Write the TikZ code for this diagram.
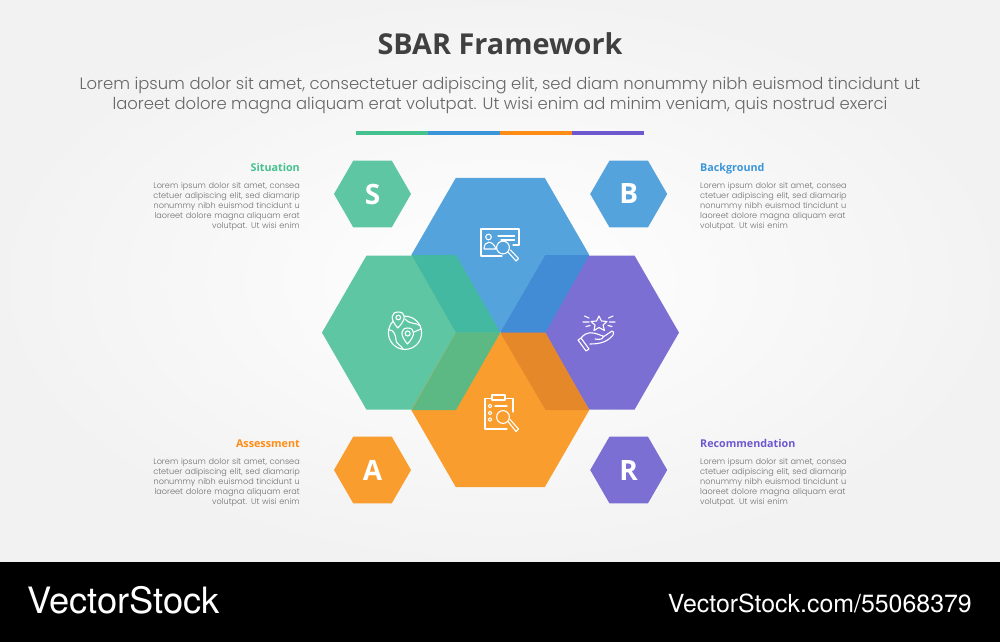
\documentclass[tikz,border=0pt]{standalone}
\usepackage{fontspec}
\setmainfont{Poppins Light}
\newfontfamily\headfont{Open Sans}
\newfontfamily\markfont{TeX Gyre Heros}
\usetikzlibrary{shapes.geometric}
\definecolor{sitgreen}{HTML}{5FC6A4}
\definecolor{bgblue}{HTML}{55A3DC}
\definecolor{recpurple}{HTML}{7B6FD4}
\definecolor{assorange}{HTML}{F99D2E}
\definecolor{tealmix}{HTML}{44B9A1}
\definecolor{bluemix}{HTML}{418CD4}
\definecolor{darkmix}{HTML}{E58829}
\definecolor{greenmix}{HTML}{5CB984}
\definecolor{bodygrey}{HTML}{707070}
\definecolor{bargreen}{HTML}{45C08F}
\definecolor{barblue}{HTML}{3B95D9}
\definecolor{barorange}{HTML}{FF8C14}
\definecolor{barpurple}{HTML}{6E58D0}
\tikzset{
	bighex/.style={regular polygon, regular polygon sides=6, minimum size=178pt, inner sep=0pt, fill=#1},
	smallhex/.style={regular polygon, regular polygon sides=6, minimum size=77pt, inner sep=0pt, fill=#1, text=white, font=\headfont\bfseries\fontsize{28}{28}\selectfont},
	heading/.style={font=\headfont\bfseries\fontsize{10.75}{10.75}\selectfont, inner sep=0pt, text=#1},
	bodytxt/.style={font=\fontsize{8.14}{10}\selectfont, text=bodygrey, inner sep=0pt, text width=160pt},
	iconline/.style={draw=white, line width=1.1pt, line join=round, line cap=round},
}
\begin{document}
\begin{tikzpicture}[x=1pt, y=-1pt]
	\useasboundingbox (0,0) rectangle (1000,642);
	% backdrop
	\shade[inner color=white, outer color=black!5] (0,0) rectangle (1000,562);
	\fill[black] (0,562) rectangle (1000,642);
	% title block
	\node[font=\headfont\bfseries\fontsize{28.8}{28.8}\selectfont, text=black!75, inner sep=0pt] (title) at (500,44) {SBAR Framework};
	\node[font=\fontsize{16.42}{20}\selectfont, text=black!60, inner sep=0pt, align=center] (intro) at (500,96) {Lorem ipsum dolor sit amet, consectetuer adipiscing elit, sed diam nonummy nibh euismod tincidunt ut\\laoreet dolore magna aliquam erat volutpat. Ut wisi enim ad minim veniam, quis nostrud exerci};
	\fill[bargreen] (356,131) rectangle (428,135);
	\fill[barblue] (428,131) rectangle (500,135);
	\fill[barorange] (500,131) rectangle (572,135);
	\fill[barpurple] (572,131) rectangle (644,135);
	% big hexagons
	\node[bighex=bgblue] (hexb) at (500.3,255) {};
	\node[bighex=sitgreen] (hexs) at (411,332.6) {};
	\node[bighex=recpurple] (hexr) at (590,332.6) {};
	\node[bighex=assorange] (hexa) at (500.3,410) {};
	\fill[tealmix] (411.7,255) -- (456,255) -- (500.3,332.6) -- (456,332.6) -- cycle;
	\fill[bluemix] (545.5,255) -- (589,255) -- (545.5,332.6) -- (500.3,332.6) -- cycle;
	\fill[darkmix] (500.3,332.6) -- (545.5,332.6) -- (589,410) -- (545.5,410) -- cycle;
	\fill[greenmix] (456,332.6) -- (500.3,332.6) -- (456,410) -- (411.7,410) -- cycle;
	% small hexagons
	\node[smallhex=sitgreen] (keys) at (372.5,194) {S};
	\node[smallhex=bgblue] (keyb) at (628.7,194) {B};
	\node[smallhex=assorange] (keya) at (372.5,470) {A};
	\node[smallhex=recpurple] (keyr) at (628.7,470) {R};
	% left texts
	\node[heading=bargreen, anchor=base east] (heads) at (300,171) {Situation};
	\node[bodytxt, anchor=north east, align=right] (txts) at (300,182) {Lorem ipsum dolor sit amet, consea\\ctetuer adipiscing elit, sed diamarip\\nonummy nibh euismod tincidunt u\\laoreet dolore magna aliquam erat\\volutpat. Ut wisi enim};
	\node[heading=barorange, anchor=base east] (heada) at (300,447) {Assessment};
	\node[bodytxt, anchor=north east, align=right] (txta) at (300,458) {Lorem ipsum dolor sit amet, consea\\ctetuer adipiscing elit, sed diamarip\\nonummy nibh euismod tincidunt u\\laoreet dolore magna aliquam erat\\volutpat. Ut wisi enim};
	% right texts
	\node[heading=barblue, anchor=base west] (headb) at (700,171) {Background};
	\node[bodytxt, anchor=north west, align=left] (txtb) at (700,182) {Lorem ipsum dolor sit amet, consea\\ctetuer adipiscing elit, sed diamarip\\nonummy nibh euismod tincidunt u\\laoreet dolore magna aliquam erat\\volutpat. Ut wisi enim};
	\node[heading=barpurple, anchor=base west] (headr) at (700,447) {Recommendation};
	\node[bodytxt, anchor=north west, align=left] (txtr) at (700,458) {Lorem ipsum dolor sit amet, consea\\ctetuer adipiscing elit, sed diamarip\\nonummy nibh euismod tincidunt u\\laoreet dolore magna aliquam erat\\volutpat. Ut wisi enim};
	% icon: card with lens
	\begin{scope}[iconline]
		\draw (513,245) -- (519,245) -- (519,229) -- (481,229) -- (481,256) -- (502,256);
		\draw (488.5,237) circle (2.8);
		\draw (484,249) .. controls (484,240) and (493,240) .. (496,249) -- cycle;
		\draw (498,236) -- (514.5,236) (501,240) -- (514.5,240);
		\draw (503,247.5) circle (6.4);
		\draw (508,252) -- (516,261) -- (518.5,258.5) -- (510.5,250);
	\end{scope}
	% icon: globe with pins
	\begin{scope}[iconline]
		\draw (405,332.8) circle (16.6);
		\draw (389,330) .. controls (393,329) and (396,335) .. (396,340) .. controls (396,344) and (401,345) .. (403,349);
		\draw (405,319) .. controls (410,325) and (416,322) .. (420.5,326);
		\draw (414,332) -- (421,329);
		\draw[fill=sitgreen] (397.8,328) .. controls (389.5,319) and (391,312) .. (398.3,312) .. controls (405.5,312) and (407,319) .. (397.8,328) -- cycle;
		\draw (398.3,317.5) circle (2.3);
		\draw[fill=sitgreen] (407.5,344) .. controls (399.5,335) and (400.5,328) .. (407.7,328) .. controls (415,328) and (416,335) .. (407.5,344) -- cycle;
		\draw (407.7,333.5) circle (2.5);
	\end{scope}
	% icon: hand with star
	\begin{scope}[iconline]
		\draw (599,316) -- (601.5,321) -- (607,321.5) -- (603,325) -- (604.5,330.5) -- (599,327.5) -- (594,330.5) -- (595,325) -- (591,321.5) -- (596.5,321) -- cycle;
		\draw (584.5,316) -- (589,318) (583,322) -- (589,322) (586,326.5) -- (590,325.5);
		\draw (613,316) -- (608.5,318) (615,322) -- (609.5,322) (612,326.5) -- (608,325.5);
		\draw (578,340) -- (586,351) (581,338) -- (589,349) (578,340) -- (581,338) (586,351) -- (589,349);
		\draw (581,338) .. controls (587,331) and (592,332) .. (600,335) -- (603,336);
		\draw (603,336) .. controls (604,339) and (600,340) .. (595,339);
		\draw (603,337) -- (612,331) .. controls (614,331) and (614,333) .. (613,335) .. controls (608,341) and (602,344) .. (590,344);
	\end{scope}
	% icon: clipboard with lens
	\begin{scope}[iconline]
		\draw (507,429) -- (485,429) -- (485,398.5) -- (492,398.5) (505,398.5) -- (513,398.5) -- (513,412);
		\draw (492,395) rectangle (505,400);
		\draw (490,406) circle (1.8) (490,413) circle (1.8) (490,419.5) circle (1.8);
		\draw (495,406) -- (507,406);
		\draw (503,417) circle (6.4);
		\draw (508,421.5) -- (516,431.5) -- (518.5,429) -- (510,419.5);
	\end{scope}
	% footer
	\node[font=\markfont\fontsize{36.3}{36.3}\selectfont, text=white, inner sep=0pt, anchor=base west] (brand) at (27,613) {VectorStock};
	\node[font=\markfont\fontsize{24.9}{24.9}\selectfont, text=white, inner sep=0pt, anchor=base east] (stockid) at (972,612.5) {VectorStock.com/55068379};
\end{tikzpicture}
\end{document}
